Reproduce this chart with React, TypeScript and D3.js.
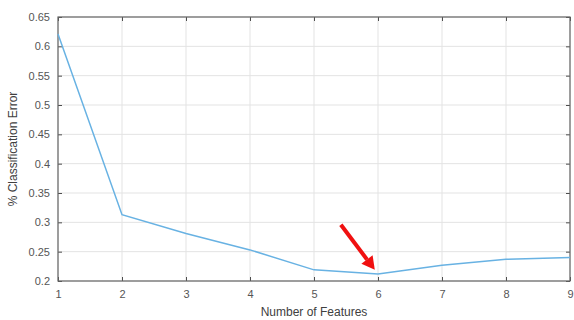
import { useEffect, useRef } from 'react'
import * as d3 from 'd3'

const features = [1, 2, 3, 4, 5, 6, 7, 8, 9]
const errors = [0.621, 0.313, 0.281, 0.253, 0.219, 0.212, 0.227, 0.237, 0.24]
const yTicks = [0.2, 0.25, 0.3, 0.35, 0.4, 0.45, 0.5, 0.55, 0.6, 0.65]
// arrow annotation in data units: [tail, head]
const arrowTail = [5.42, 0.296]
const arrowHead = [5.95, 0.219]

export default function App() {
  const svgRef = useRef<SVGSVGElement>(null)
  const width = 574
  const height = 320

  useEffect(() => {
    if (!svgRef.current) return
    const svg = d3.select(svgRef.current)
    svg.selectAll('*').remove()

    const margin = { top: 17, right: 4, bottom: 39, left: 58 }
    const innerW = width - margin.left - margin.right
    const innerH = height - margin.top - margin.bottom
    const g = svg.append('g').attr('transform', `translate(${margin.left},${margin.top})`)

    const x = d3.scaleLinear().domain([1, 9]).range([0, innerW])
    const y = d3.scaleLinear().domain([0.2, 0.65]).range([innerH, 0])

    // Grid
    g.append('g').selectAll('line').data(features).join('line')
      .attr('x1', d => x(d)).attr('x2', d => x(d))
      .attr('y1', 0).attr('y2', innerH)
      .attr('stroke', '#e3e3e3').attr('stroke-width', 1)
    g.append('g').selectAll('line').data(yTicks).join('line')
      .attr('x1', 0).attr('x2', innerW)
      .attr('y1', d => y(d)).attr('y2', d => y(d))
      .attr('stroke', '#e3e3e3').attr('stroke-width', 1)

    const tickCol = '#4d4d4d'
    // Y axis (ticks inside)
    const yAx = g.append('g').call(d3.axisLeft(y).tickValues(yTicks).tickSize(-4).tickPadding(8).tickFormat(d => String(+d)))
    yAx.select('.domain').remove()
    yAx.selectAll('line').attr('stroke', tickCol)
    yAx.selectAll('text').attr('fill', '#555').attr('font-size', 11).attr('font-family', 'Liberation Sans, Arial, sans-serif')
    const yAxR = g.append('g').attr('transform', `translate(${innerW},0)`)
      .call(d3.axisRight(y).tickValues(yTicks).tickSize(-4).tickFormat(() => ''))
    yAxR.select('.domain').remove()
    yAxR.selectAll('line').attr('stroke', tickCol)

    // X axis
    const xAx = g.append('g').attr('transform', `translate(0,${innerH})`)
      .call(d3.axisBottom(x).tickValues(features).tickSize(-4).tickPadding(9).tickFormat(d3.format('d')))
    xAx.select('.domain').remove()
    xAx.selectAll('line').attr('stroke', tickCol)
    xAx.selectAll('text').attr('fill', '#555').attr('font-size', 11).attr('font-family', 'Liberation Sans, Arial, sans-serif')
    const xAxT = g.append('g')
      .call(d3.axisTop(x).tickValues(features).tickSize(-4).tickFormat(() => ''))
    xAxT.select('.domain').remove()
    xAxT.selectAll('line').attr('stroke', tickCol)

    // Box
    g.append('rect').attr('x', 0).attr('y', 0).attr('width', innerW).attr('height', innerH)
      .attr('fill', 'none').attr('stroke', '#666').attr('stroke-width', 1.2)

    // Line
    const line = d3.line<number>().x((_, i) => x(features[i])).y(d => y(d))
    g.append('path').datum(errors).attr('d', line)
      .attr('fill', 'none').attr('stroke', '#68b2e3').attr('stroke-width', 1.5)

    // Red arrow
    const x0 = x(arrowTail[0]), y0 = y(arrowTail[1])
    const x1 = x(arrowHead[0]), y1 = y(arrowHead[1])
    const ang = Math.atan2(y1 - y0, x1 - x0)
    const headLen = 13, headW = 7
    const bx = x1 - headLen * Math.cos(ang), by = y1 - headLen * Math.sin(ang)
    g.append('line').attr('x1', x0).attr('y1', y0).attr('x2', bx).attr('y2', by)
      .attr('stroke', '#f01010').attr('stroke-width', 4)
    const px = -Math.sin(ang), py = Math.cos(ang)
    g.append('path')
      .attr('d', `M${x1},${y1}L${bx + px * headW},${by + py * headW}L${bx - px * headW},${by - py * headW}Z`)
      .attr('fill', '#f01010')

    // Labels
    g.append('text').attr('x', innerW / 2).attr('y', innerH + 35)
      .attr('text-anchor', 'middle').attr('fill', '#404040').attr('font-size', 12)
      .attr('font-family', 'Liberation Sans, Arial, sans-serif')
      .text('Number of Features')
    g.append('text').attr('transform', 'rotate(-90)')
      .attr('x', -innerH / 2).attr('y', -41)
      .attr('text-anchor', 'middle').attr('fill', '#404040').attr('font-size', 12)
      .attr('font-family', 'Liberation Sans, Arial, sans-serif')
      .text('% Classification Error')
  }, [])

  return (
    <svg ref={svgRef} width={width} height={height}
      style={{ position: 'absolute', left: 0, top: 0, background: '#fff' }} />
  )
}
